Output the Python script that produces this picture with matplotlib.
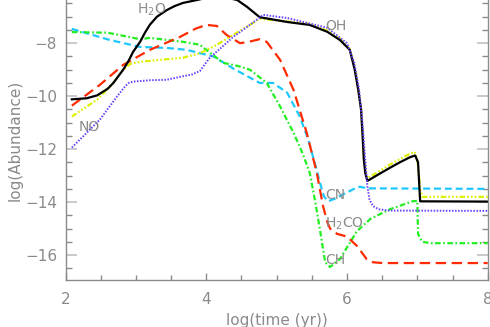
import matplotlib
matplotlib.use("Agg")
import matplotlib.pyplot as plt
from matplotlib.ticker import MultipleLocator

plt.rcParams['font.family'] = ['DejaVu Sans']
plt.rcParams['lines.scale_dashes'] = False

# ---- data (log time, log abundance) ----
h2o_x = [2.09, 2.30, 2.45, 2.60, 2.68, 2.75, 2.82, 2.90, 2.96, 3.06, 3.13, 3.20, 3.30, 3.44,
         3.55, 3.67, 3.87, 4.15, 4.44, 4.58, 4.76, 5.15, 5.47, 5.72, 5.90, 6.04, 6.11, 6.16,
         6.20, 6.22, 6.24, 6.26, 6.29, 6.45, 6.60, 6.75, 6.90, 6.97, 7.01, 7.04, 8.0]
h2o_y = [-10.12, -10.08, -9.97, -9.72, -9.50, -9.25, -9.00, -8.65, -8.33, -7.95, -7.60,
         -7.30, -7.00, -6.75, -6.60, -6.48, -6.37, -6.20, -6.37, -6.63, -7.02, -7.20, -7.31,
         -7.57, -7.88, -8.25, -9.00, -9.76, -10.50, -11.40, -12.40, -12.90, -13.20, -12.95,
         -12.72, -12.50, -12.30, -12.24, -12.50, -13.97, -13.98]

oh_x = [2.09, 2.25, 2.49, 2.73, 2.85, 2.90, 2.96, 3.20, 3.44, 3.63, 3.80, 3.91, 4.05, 4.20,
        4.38, 4.62, 4.81, 5.15, 5.72, 6.00, 6.10, 6.17, 6.22, 6.26, 6.29, 6.32, 6.37, 6.45,
        6.60, 8.0]
oh_y = [-11.94, -11.52, -10.88, -10.02, -9.62, -9.50, -9.45, -9.40, -9.38, -9.27, -9.18,
        -9.05, -8.55, -8.20, -7.77, -7.31, -6.93, -7.05, -7.42, -8.00, -8.70, -9.70, -11.00,
        -12.40, -13.40, -13.90, -14.15, -14.27, -14.32, -14.33]

yel_x = [2.09, 2.45, 2.68, 2.82, 2.92, 3.06, 3.67, 3.91, 4.15, 4.62, 4.76, 5.15, 5.47, 5.72,
         5.90, 6.04, 6.11, 6.16, 6.20, 6.22, 6.24, 6.27, 6.29, 6.45, 6.60, 6.75, 6.90, 6.96,
         7.00, 7.04, 7.07, 8.0]
yel_y = [-10.77, -10.13, -9.50, -9.00, -8.78, -8.70, -8.55, -8.38, -8.06, -7.31, -7.08,
         -7.18, -7.28, -7.53, -7.83, -8.22, -8.90, -9.70, -10.50, -11.40, -12.30, -12.90,
         -13.10, -12.85, -12.60, -12.38, -12.17, -12.10, -12.40, -13.50, -13.80, -13.80]

h2co_x = [2.09, 2.49, 2.82, 3.20, 3.63, 3.85, 4.00, 4.15, 4.29, 4.48, 4.60, 4.76, 4.86, 5.05,
          5.24, 5.43, 5.57, 5.66, 5.72, 5.76, 5.86, 6.00, 6.14, 6.28, 6.37, 6.50, 8.0]
h2co_y = [-10.36, -9.57, -8.82, -8.25, -7.76, -7.45, -7.31, -7.35, -7.69, -8.00, -7.95,
          -7.85, -7.95, -8.63, -9.76, -11.40, -12.88, -14.15, -14.75, -15.00, -15.20, -15.30,
          -15.65, -16.15, -16.27, -16.30, -16.30]

cn_x = [2.09, 2.63, 3.06, 3.44, 3.72, 4.10, 4.38, 4.62, 4.76, 4.95, 5.15, 5.33, 5.45, 5.55,
        5.62, 5.67, 5.73, 5.85, 5.95, 6.10, 6.18, 6.30, 8.0]
cn_y = [-7.46, -7.88, -8.14, -8.18, -8.25, -8.50, -8.95, -9.30, -9.50, -9.50, -9.87, -10.77,
        -11.64, -12.60, -13.30, -13.77, -13.97, -13.85, -13.70, -13.50, -13.42, -13.48,
        -13.50]

ch_x = [2.09, 2.49, 2.59, 3.06, 3.20, 3.67, 3.91, 4.00, 4.24, 4.48, 4.62, 4.86, 5.05, 5.24,
        5.36, 5.47, 5.55, 5.62, 5.69, 5.76, 5.90, 6.14, 6.33, 6.61, 6.93, 7.00, 7.01, 7.07,
        7.20, 8.0]
ch_y = [-7.58, -7.60, -7.60, -7.85, -7.80, -7.95, -8.06, -8.25, -8.74, -8.88, -9.00, -9.50,
        -10.39, -11.38, -12.10, -12.88, -14.00, -15.10, -16.27, -16.45, -16.15, -15.10,
        -14.64, -14.27, -13.97, -13.95, -15.20, -15.50, -15.55, -15.55]

labels = ["H$_2$O", "OH", "NO", "CN", "H$_2$CO", "CH"]
label_x = [3.02, 5.69, 2.18, 5.69, 5.69, 5.69]
label_y = [-6.74, -7.35, -11.15, -13.74, -14.80, -16.18]

xlabel = "log(time (yr))"
ylabel = "log(Abundance)"

gray = '#8a8a8a'

fig = plt.figure(figsize=(4.9, 3.27), dpi=100)
ax = fig.add_axes([65.5 / 490, 47 / 327, (487.7 - 65.5) / 490, 280 / 327])

lw = 1.6
ax.plot(cn_x, cn_y, color='#1ec8ff', lw=lw, dashes=(5, 2.8))
ax.plot(ch_x, ch_y, color='#22ee22', lw=lw, dashes=(4, 1.8, 1.2, 1.8))
ax.plot(h2co_x, h2co_y, color='#ff2a00', lw=lw, dashes=(7.5, 4))
ax.plot(yel_x, yel_y, color='#ddf000', lw=lw,
        dashes=(4, 1.5, 1.2, 1.5, 1.2, 1.5, 1.2, 1.5))
ax.plot(h2o_x, h2o_y, color='black', lw=lw)
ax.plot(oh_x, oh_y, color='#6a40ff', lw=1.4, dashes=(1.1, 1.1))

for t, x, y in zip(labels, label_x, label_y):
    ax.text(x, y, t, color=gray, fontsize=10, ha='left', va='center')

ax.set_xlim(2, 8)
ax.set_ylim(-16.94, -6.37)
ax.xaxis.set_major_locator(MultipleLocator(2))
ax.xaxis.set_minor_locator(MultipleLocator(0.5))
ax.yaxis.set_major_locator(MultipleLocator(2))
ax.yaxis.set_minor_locator(MultipleLocator(0.5))

ax.tick_params(which='both', direction='in', colors=gray, labelcolor=gray,
               right=True, top=False, labelsize=11)
ax.tick_params(axis='y', which='major', length=8, width=1.2, color='#c0c0c0', pad=6)
ax.tick_params(axis='y', which='minor', length=4, width=1.0)
ax.tick_params(axis='x', which='major', length=5, width=1.0, pad=9)
ax.tick_params(axis='x', which='minor', length=3.5, width=1.0)

ax.spines['top'].set_visible(False)
for s in ['left', 'right', 'bottom']:
    ax.spines[s].set_color(gray)
    ax.spines[s].set_linewidth(1.0)

ax.set_xlabel(xlabel, color=gray, fontsize=11, labelpad=4)
ax.set_ylabel(ylabel, color=gray, fontsize=11, labelpad=2)

fig.savefig("out.png", dpi=100)
